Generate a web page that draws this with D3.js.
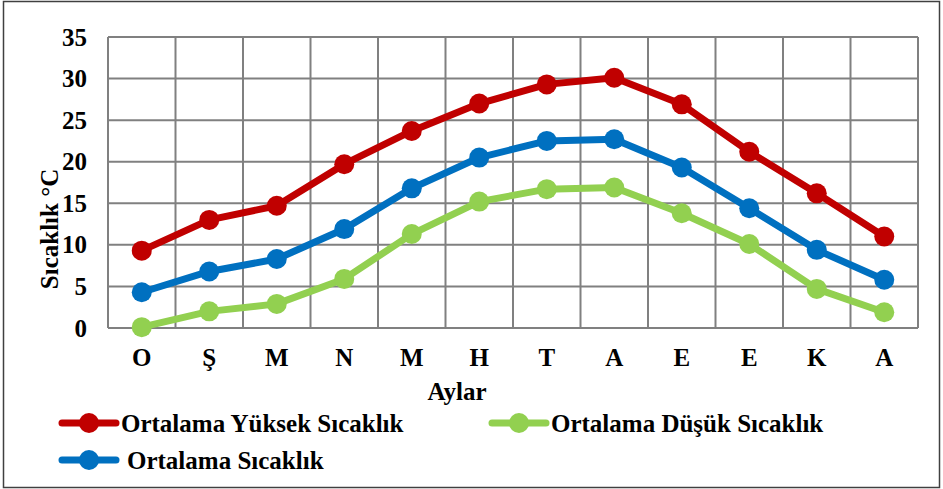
<!DOCTYPE html>
<html>
<head>
<meta charset="utf-8">
<script src="https://cdn.jsdelivr.net/npm/d3@7"></script>
<style>
  body { margin: 0; background: #fff; }
  svg { display: block; }
  svg text { font-family: "Liberation Serif", "Times New Roman", Times, "DejaVu Serif", serif !important; font-weight: bold; }
</style>
</head>
<body>
<script>
// Chart size
const width = 943;
const height = 489;

// Data
const months = ['O', 'Ş', 'M', 'N', 'M', 'H', 'T', 'A', 'E', 'E', 'K', 'A'];
const highTemp = [9.3, 13.0, 14.7, 19.7, 23.7, 27.0, 29.3, 30.1, 26.9, 21.2, 16.2, 11.0];
const meanTemp = [4.3, 6.8, 8.3, 11.9, 16.8, 20.5, 22.5, 22.7, 19.3, 14.4, 9.4, 5.8];
const lowTemp = [0.1, 2.0, 2.9, 5.9, 11.3, 15.2, 16.7, 16.9, 13.8, 10.1, 4.7, 1.9];
const yTicks = [0, 5, 10, 15, 20, 25, 30, 35];

const series = [
  { name: 'Ortalama Yüksek Sıcaklık', values: highTemp, color: '#C00000' },
  { name: 'Ortalama Düşük Sıcaklık', values: lowTemp, color: '#92D050' },
  { name: 'Ortalama Sıcaklık', values: meanTemp, color: '#0070C0' }
];

const margin = { top: 37, right: 25, bottom: 161, left: 108 };
const plotW = width - margin.left - margin.right;
const plotH = height - margin.top - margin.bottom;

const svg = d3.select('body')
  .append('svg')
  .attr('width', width)
  .attr('height', height);

// outer border
svg.append('rect')
  .attr('x', 3.5).attr('y', 1.5)
  .attr('width', width - 7).attr('height', height - 3)
  .attr('fill', 'none')
  .attr('stroke', '#404040')
  .attr('stroke-width', 1.5);

const g = svg.append('g')
  .attr('transform', `translate(${margin.left},${margin.top})`);

// scales
const x = d3.scaleBand()
  .domain(d3.range(months.length))
  .range([0, plotW]);

const y = d3.scaleLinear()
  .domain([0, 35])
  .range([plotH, 0]);

// grid
g.append('g')
  .selectAll('line')
  .data(yTicks)
  .join('line')
  .attr('x1', 0).attr('x2', plotW)
  .attr('y1', d => y(d)).attr('y2', d => y(d))
  .attr('stroke', '#808080')
  .attr('stroke-width', 2);

g.append('g')
  .selectAll('line')
  .data(d3.range(months.length + 1))
  .join('line')
  .attr('x1', d => d * x.bandwidth()).attr('x2', d => d * x.bandwidth())
  .attr('y1', 0).attr('y2', plotH)
  .attr('stroke', '#808080')
  .attr('stroke-width', 2);

// y axis labels
const yAxis = g.append('g')
  .call(d3.axisLeft(y).tickValues(yTicks).tickSize(0).tickPadding(21));
yAxis.select('.domain').remove();
yAxis.selectAll('text')
  .attr('font-size', '25px')
  .attr('fill', '#000');

// x axis labels
const xAxis = g.append('g')
  .attr('transform', `translate(0,${plotH})`)
  .call(d3.axisBottom(x).tickFormat(i => months[i]).tickSize(0).tickPadding(20));
xAxis.select('.domain').remove();
xAxis.selectAll('text')
  .attr('font-size', '25px')
  .attr('fill', '#000');

// axis titles
svg.append('text')
  .text('Aylar')
  .attr('x', 457)
  .attr('y', 400)
  .attr('text-anchor', 'middle')
  .attr('font-size', '25px');

svg.append('text')
  .text('Sıcaklık °C')
  .attr('transform', 'translate(58,229) rotate(-90)')
  .attr('text-anchor', 'middle')
  .attr('font-size', '25px');

// lines
const line = d3.line()
  .x((d, i) => x(i) + x.bandwidth() / 2)
  .y(d => y(d));

series.forEach(s => {
  g.append('path')
    .datum(s.values)
    .attr('d', line)
    .attr('fill', 'none')
    .attr('stroke', s.color)
    .attr('stroke-width', 7)
    .attr('stroke-linejoin', 'round');

  g.append('g')
    .selectAll('circle')
    .data(s.values)
    .join('circle')
    .attr('cx', (d, i) => x(i) + x.bandwidth() / 2)
    .attr('cy', d => y(d))
    .attr('r', 10)
    .attr('fill', s.color);
});

// legend
const legendPos = [
  { x: 60, y: 423, tx: 121 },
  { x: 490, y: 423, tx: 551 },
  { x: 60, y: 460, tx: 127 }
];

series.forEach((s, i) => {
  const p = legendPos[i];
  const lg = svg.append('g').attr('transform', `translate(${p.x},${p.y})`);
  lg.append('line')
    .attr('x1', 2).attr('x2', 56)
    .attr('stroke', s.color)
    .attr('stroke-width', 7)
    .attr('stroke-linecap', 'round');
  lg.append('circle')
    .attr('cx', 29)
    .attr('r', 10)
    .attr('fill', s.color);
  svg.append('text')
    .text(s.name)
    .attr('x', p.tx)
    .attr('y', p.y + 9)
    .attr('font-size', '25px');
});
</script>
</body>
</html>
